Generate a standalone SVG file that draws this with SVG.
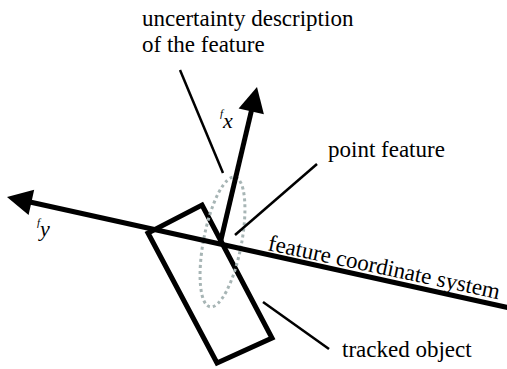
<svg xmlns="http://www.w3.org/2000/svg" width="507" height="369" viewBox="0 0 507 369">
  <style>
    .axis { stroke: #000; stroke-width: 5; fill: none; marker-end: url(#head); }
    .leader { stroke: #000; stroke-width: 2.5; fill: none; }
  </style>
  <defs>
    <marker id="head" markerUnits="userSpaceOnUse" markerWidth="26" markerHeight="26" refX="5" refY="13" orient="auto" overflow="visible">
      <path d="M0,0 L25,13 L0,26 Z" fill="#000"/>
    </marker>
  </defs>

  <!-- tracked object -->
  <g id="tracked-object">
    <polygon points="202,205 272,338 217,363 148,233" fill="none" stroke="#000" stroke-width="5" stroke-linejoin="miter"/>
  </g>

  <!-- uncertainty ellipse of the point feature -->
  <g id="uncertainty">
    <ellipse cx="222.5" cy="242" rx="19" ry="66" transform="rotate(10.9 222.5 242)" fill="none" stroke="#a7b5b5" stroke-width="3" stroke-dasharray="3 3"/>
  </g>

  <!-- feature coordinate frame and leader lines -->
  <g id="connectors">
    <line class="axis" x1="515" y1="309.2" x2="26.5" y2="201.3"/>
    <line class="axis" x1="220" y1="244" x2="252.4" y2="106.5"/>
    <line class="leader" x1="180" y1="70" x2="223" y2="173"/>
    <line class="leader" x1="317" y1="164" x2="235" y2="235"/>
    <line class="leader" x1="263" y1="302" x2="329" y2="349"/>
  </g>

  <g font-family="Liberation Serif" fill="#000">
    <!-- axis labels -->
    <g id="axis-x">
      <text x="220" y="117" font-style="italic" font-size="22"><tspan font-size="11">f</tspan><tspan dy="11">x</tspan></text>
    </g>
    <g id="axis-y">
      <text x="37" y="226" font-style="italic" font-size="22"><tspan font-size="11">f</tspan><tspan dy="10">y</tspan></text>
    </g>

    <!-- labels -->
    <g id="label-uncertainty">
      <text x="142" y="26" font-size="23">uncertainty description</text>
      <text x="142" y="52" font-size="23">of the feature</text>
    </g>
    <g id="label-point">
      <text x="328" y="157" font-size="23">point feature</text>
    </g>
    <g id="label-frame">
      <text transform="translate(267 250) rotate(12)" font-size="23">feature coordinate system</text>
    </g>
    <g id="label-object">
      <text x="342" y="357" font-size="23">tracked object</text>
    </g>
  </g>
</svg>
